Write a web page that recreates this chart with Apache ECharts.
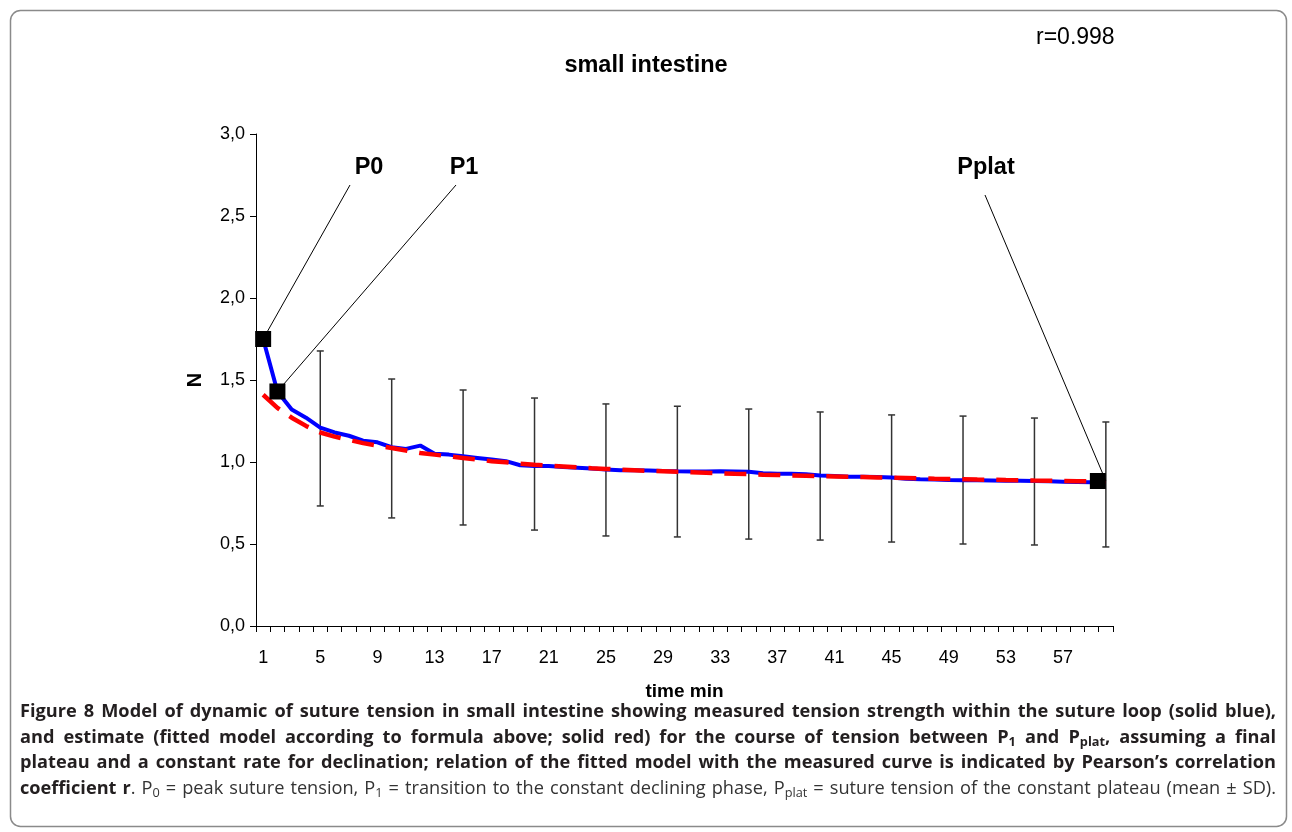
<!DOCTYPE html>
<html>
<head>
<meta charset="utf-8">
<script src="https://cdn.jsdelivr.net/npm/echarts@6/dist/echarts.min.js"></script>
<style>
  html, body { margin: 0; padding: 0; background: #fff; }
  #wrap { position: relative; width: 1292px; height: 832px; }
  #chart { position: absolute; left: 0; top: 0; width: 1292px; height: 832px; }
  #caption { position: absolute; left: 20px; top: 698px; width: 1256px; font-family: "Open Sans", "Noto Sans", sans-serif; font-size: 18.2px; line-height: 25.5px; color: #231f20; }
  #caption .ln { text-align: justify; text-align-last: justify; white-space: nowrap; overflow: visible; }
  #caption b { font-weight: 700; }
  #caption .reg { font-weight: 400; color: #333; }
  #caption sub { font-size: 70%; vertical-align: -3px; line-height: 0; }
</style>
</head>
<body>
<div id="wrap">
  <div id="chart"></div>
  <div id="caption">
    <div class="ln"><b>Figure 8 Model of dynamic of suture tension in small intestine showing measured tension strength within the suture loop (solid blue),</b></div>
    <div class="ln"><b>and estimate (fitted model according to formula above; solid red) for the course of tension between P<sub>1</sub> and P<sub>plat</sub>, assuming a final</b></div>
    <div class="ln"><b>plateau and a constant rate for declination; relation of the fitted model with the measured curve is indicated by Pearson’s correlation</b></div>
    <div class="ln"><b>coefficient r</b><span class="reg">. P<sub>0</sub> = peak suture tension, P<sub>1</sub> = transition to the constant declining phase, P<sub>plat</sub> = suture tension of the constant plateau (mean ± SD).</span></div>
  </div>
</div>
<script>
// ---- data ----
const categories = ['1','2','3','4','5','6','7','8','9','10','11','12','13','14','15','16','17','18','19','20',
  '21','22','23','24','25','26','27','28','29','30','31','32','33','34','35','36','37','38','39','40',
  '41','42','43','44','45','46','47','48','49','50','51','52','53','54','55','56','57','58','59','60'];

const measured = [1.75, 1.43, 1.32, 1.27, 1.21, 1.18, 1.16, 1.13, 1.12, 1.09,
  1.08, 1.10, 1.05, 1.045, 1.035, 1.025, 1.015, 1.005, 0.98, 0.975,
  0.975, 0.97, 0.965, 0.96, 0.955, 0.95, 0.95, 0.948, 0.945, 0.943,
  0.942, 0.942, 0.943, 0.942, 0.94, 0.932, 0.928, 0.928, 0.925, 0.918,
  0.915, 0.91, 0.91, 0.908, 0.905, 0.898, 0.895, 0.893, 0.89, 0.888,
  0.888, 0.887, 0.886, 0.885, 0.884, 0.882, 0.88, 0.878, 0.877, 0.877];

const fitted = [1.41, 1.33, 1.27, 1.22, 1.18, 1.155, 1.135, 1.115, 1.10, 1.085,
  1.07, 1.055, 1.045, 1.035, 1.025, 1.015, 1.005, 0.998, 0.99, 0.983,
  0.977, 0.972, 0.967, 0.962, 0.958, 0.954, 0.95, 0.946, 0.943, 0.94,
  0.937, 0.934, 0.931, 0.928, 0.926, 0.923, 0.921, 0.918, 0.916, 0.914,
  0.912, 0.91, 0.908, 0.906, 0.904, 0.902, 0.9, 0.898, 0.897, 0.895,
  0.893, 0.892, 0.89, 0.889, 0.887, 0.886, 0.884, 0.883, 0.882, 0.88];

const errCats = ['5','10','15','20','25','30','35','40','45','50','55','60'];
const errHigh = [1.677, 1.506, 1.439, 1.39, 1.354, 1.34, 1.323, 1.305, 1.287, 1.28, 1.268, 1.244];
const errLow  = [0.732, 0.659, 0.616, 0.585, 0.549, 0.543, 0.53, 0.524, 0.512, 0.50, 0.494, 0.482];

const pointNames = ['P0', 'P1', 'Pplat'];
const pointCats = ['1', '2', '60'];
const pointValues = [1.75, 1.43, 0.884];

const yTicks = ['0,0','0,5','1,0','1,5','2,0','2,5','3,0'];

// ---- chart ----
const FONT = '"Liberation Sans", Arial, sans-serif';
const chart = echarts.init(document.getElementById('chart'), null, {renderer: 'canvas'});

const errData = errCats.map((c, i) => [c, errLow[i], errHigh[i]]);
const labelAnchors = {P0: [350, 185], P1: [456, 185], Pplat: [985, 195]};
const labelCenters = {P0: [369, 168], P1: [464, 168], Pplat: [986, 168]};

const option = {
  animation: false,
  backgroundColor: '#fff',
  title: [
    {text: 'small intestine', left: 'center', top: 49,
     textStyle: {fontFamily: FONT, fontSize: 23.5, fontWeight: 'bold', color: '#000'}},
    {text: 'r=0.998', left: 1031, top: 21,
     textStyle: {fontFamily: FONT, fontSize: 23, fontWeight: 'normal', color: '#000'}}
  ],
  graphic: [
    {type: 'rect', z: -1, shape: {x: 10.5, y: 10.5, width: 1276, height: 816, r: 10},
     style: {fill: 'none', stroke: '#8a8a8a', lineWidth: 1.5}}
  ],
  grid: {left: 256, right: 179, top: 134, bottom: 206, containLabel: false},
  xAxis: {
    type: 'category', data: categories, boundaryGap: true,
    name: 'time min', nameLocation: 'middle', nameGap: 56,
    nameTextStyle: {fontFamily: FONT, fontSize: 19, fontWeight: 'bold', color: '#000'},
    axisLine: {lineStyle: {color: '#000', width: 1}},
    axisTick: {show: true, interval: 0, alignWithLabel: false, length: 6, lineStyle: {color: '#000'}},
    axisLabel: {interval: 3, fontFamily: FONT, fontSize: 18, color: '#000', margin: 23},
    splitLine: {show: false}
  },
  yAxis: {
    type: 'value', min: 0, max: 3, interval: 0.5,
    name: 'N', nameLocation: 'middle', nameGap: 51, nameRotate: 90,
    nameTextStyle: {fontFamily: FONT, fontSize: 20, fontWeight: 'bold', color: '#000'},
    axisLine: {show: true, lineStyle: {color: '#000', width: 1}},
    axisTick: {show: true, length: 6, lineStyle: {color: '#000'}},
    axisLabel: {fontFamily: FONT, fontSize: 18, color: '#000', margin: 11,
      formatter: (v) => yTicks[Math.round(v / 0.5)]},
    splitLine: {show: false}
  },
  series: [
    {
      name: 'SD', type: 'custom', z: 1, data: errData,
      renderItem: function (params, api) {
        const x = api.value(0);
        const lo = api.coord([x, api.value(1)]);
        const hi = api.coord([x, api.value(2)]);
        const w = 3.5;
        const st = {stroke: '#333', lineWidth: 1.5};
        return {type: 'group', children: [
          {type: 'line', shape: {x1: hi[0], y1: hi[1], x2: lo[0], y2: lo[1]}, style: st},
          {type: 'line', shape: {x1: hi[0] - w, y1: hi[1], x2: hi[0] + w, y2: hi[1]}, style: st},
          {type: 'line', shape: {x1: lo[0] - w, y1: lo[1], x2: lo[0] + w, y2: lo[1]}, style: st}
        ]};
      }
    },
    {
      name: 'measured', type: 'line', z: 2, data: measured, symbol: 'none',
      lineStyle: {color: '#0000ff', width: 4}
    },
    {
      name: 'fitted', type: 'line', z: 3, data: fitted, symbol: 'none',
      lineStyle: {color: '#ff0000', width: 4.5, type: [22, 12]}
    },
    {
      name: 'points', type: 'scatter', z: 5, symbol: 'rect', symbolSize: 16,
      itemStyle: {color: '#000', opacity: 1},
      data: pointCats.map((c, i) => ({
        name: pointNames[i], value: [c, pointValues[i]],
        symbolOffset: pointNames[i] === 'Pplat' ? [-8, 0] : [0, 0]
      })),
      markLine: {
        silent: true, symbol: 'none', z: 4,
        lineStyle: {color: '#000', width: 1, type: 'solid', opacity: 1},
        label: {show: false},
        data: pointNames.map((n, i) => [
          {coord: [pointCats[i], pointValues[i]]},
          {x: labelAnchors[n][0], y: labelAnchors[n][1]}
        ])
      },
      markPoint: {
        silent: true, symbol: 'rect', symbolSize: 0,
        label: {show: true, position: 'inside', fontFamily: FONT, fontSize: 23.5, fontWeight: 'bold', color: '#000',
          formatter: (p) => p.name},
        data: pointNames.map((n) => ({name: n, x: labelCenters[n][0], y: labelCenters[n][1]}))
      }
    }
  ]
};
chart.setOption(option);
</script>
</body>
</html>
